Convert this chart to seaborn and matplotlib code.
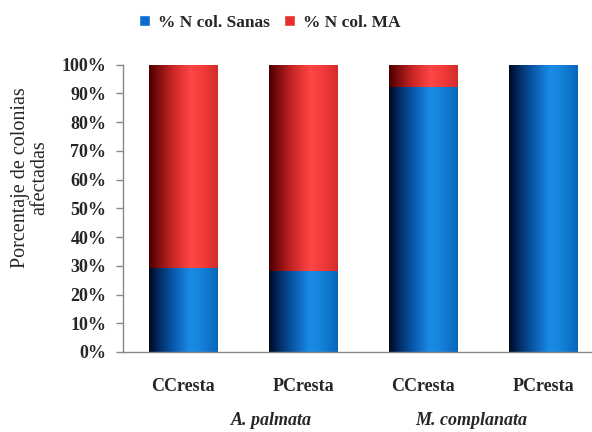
import numpy as np
import pandas as pd
import matplotlib
matplotlib.use("Agg")
import matplotlib.pyplot as plt
from matplotlib.colors import LinearSegmentedColormap
from matplotlib.patches import Patch
import seaborn as sns

# ---- data ----
sitios = ["CCresta", "PCresta", "CCresta", "PCresta"]
especies = ["A. palmata", "A. palmata", "M. complanata", "M. complanata"]
sanas = [29.3, 28.2, 92.1, 100.0]
ma = [70.7, 71.8, 7.9, 0.0]
yticks = [0, 10, 20, 30, 40, 50, 60, 70, 80, 90, 100]
serie_labels = ["% N col. Sanas", "% N col. MA"]

sns.set_theme(style="white")
plt.rcParams['font.family'] = ['Liberation Serif', 'DejaVu Serif']

df = pd.DataFrame({
    "grupo": [f"{e} {s}" for e, s in zip(especies, sitios)],
    "sanas": sanas,
    "total": [a + b for a, b in zip(sanas, ma)],
})

fig = plt.figure(figsize=(5.92, 4.32), dpi=100)
ax = fig.add_axes([123/592, 1-352/432, 1-123/592, (352-64.7)/432])

w = 68/120
sns.barplot(data=df, x="grupo", y="total", color="#e8302c", width=w, ax=ax,
            edgecolor="none", linewidth=0)
sns.barplot(data=df, x="grupo", y="sanas", color="#0a6ccc", width=w, ax=ax,
            edgecolor="none", linewidth=0)

blue_cmap = LinearSegmentedColormap.from_list("b", [
    (0.0, "#000822"), (0.12, "#00265a"), (0.35, "#0a58aa"),
    (0.6, "#1a8ce8"), (0.78, "#1480d8"), (1.0, "#0766b8")])
red_cmap = LinearSegmentedColormap.from_list("r", [
    (0.0, "#4a0000"), (0.12, "#7a0c0c"), (0.35, "#cc2626"),
    (0.6, "#ff4646"), (0.8, "#f23a3a"), (1.0, "#d42c2c")])

grad = np.linspace(0, 1, 256).reshape(1, -1)
n = len(df)
for i, p in enumerate(list(ax.patches)):
    x0, y0 = p.get_x(), p.get_y()
    pw, ph = p.get_width(), p.get_height()
    if ph <= 0:
        continue
    cmap = red_cmap if i < n else blue_cmap
    im = ax.imshow(grad, cmap=cmap, aspect="auto",
                   extent=(x0, x0 + pw, y0, y0 + ph),
                   zorder=p.get_zorder() + 0.5 + (i >= n))
    im.set_clip_path(p)

ax.set_xlim(-0.5, 3.408)
ax.set_ylim(0, 100)
ax.set_yticks(yticks)
ax.set_yticklabels([f"{t}%" for t in yticks], fontsize=13, fontweight="bold")
ax.set_xticks(range(n))
ax.set_xticklabels(sitios, fontsize=13, fontweight="bold")
ax.tick_params(axis="x", length=0, pad=19)
ax.tick_params(axis="y", length=5, width=1, color="#888888", direction="out", pad=7, left=True)
ax.set_xlabel("")
ax.set_ylabel("")
for s in ["top", "right"]:
    ax.spines[s].set_visible(False)
for s in ["left", "bottom"]:
    ax.spines[s].set_color("#888888")
    ax.spines[s].set_linewidth(1)

# species labels
offsets = {"A. palmata": 0.24, "M. complanata": -0.1}
for sp in dict.fromkeys(especies):
    idx = [i for i, e in enumerate(especies) if e == sp]
    xc = np.mean(idx) + offsets[sp]
    ax.text(xc, -0.237, sp, transform=ax.get_xaxis_transform(),
            ha="center", va="center",
            fontsize=13, fontweight="bold", fontstyle="italic")

fig.text(30/592, 1-178/432, "Porcentaje de colonias\nafectadas", rotation=90,
         ha="center", va="center", fontsize=14.5, linespacing=1.0)

handles = [Patch(facecolor="#0a6ccc"), Patch(facecolor="#e8302c")]
fig.legend(handles, serie_labels, loc="center", bbox_to_anchor=(270/592, 1-23/432),
           ncol=2, frameon=False, prop={"size": 12.5, "weight": "bold"},
           handlelength=0.6, handleheight=0.6, handletextpad=0.5, columnspacing=0.8)

fig.savefig("out.png", dpi=100)
